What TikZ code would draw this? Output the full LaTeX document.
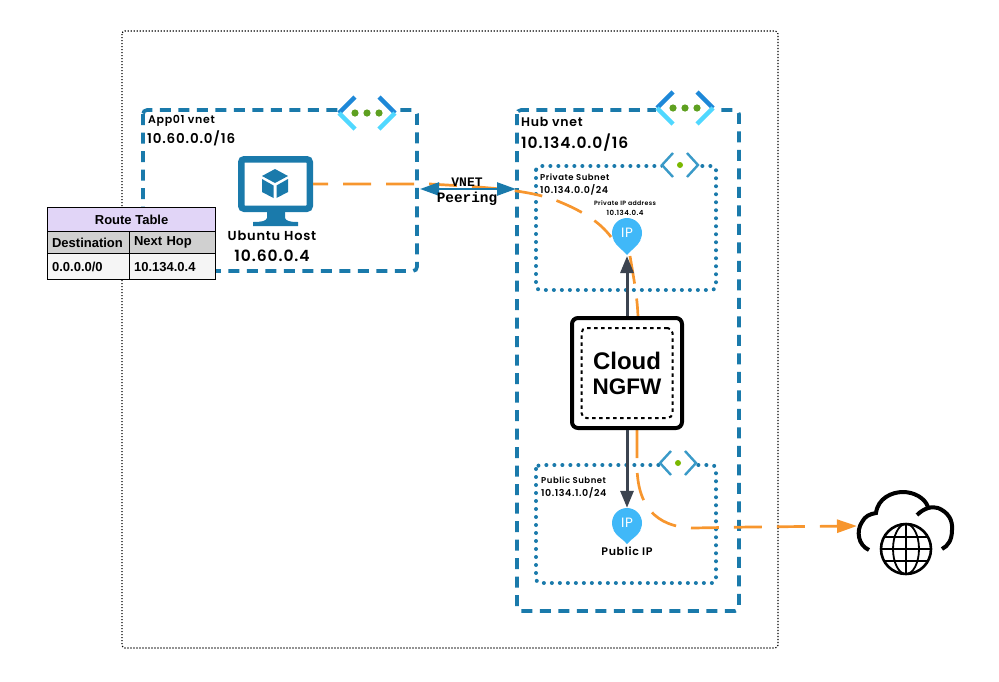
\documentclass[tikz,border=0pt]{standalone}
\usepackage{fontspec}
\setmainfont{Liberation Sans}
\newfontfamily\labelfont[LetterSpace=6,BoldFont={Poppins SemiBold}]{Poppins}
\newfontfamily\peerfont{Liberation Mono}
\usetikzlibrary{arrows.meta}
\definecolor{vnetblue}{HTML}{1A7AAB}
\definecolor{flowline}{HTML}{F7962E}
\definecolor{darkarrow}{HTML}{3C4450}
\definecolor{pinblue}{HTML}{40B8F8}
\definecolor{chevdark}{HTML}{1E88D8}
\definecolor{chevlight}{HTML}{50D8FF}
\definecolor{subchev}{HTML}{3A9AC8}
\definecolor{dotgreen}{HTML}{5EA020}
\definecolor{subgreen}{HTML}{7AB800}
\definecolor{headpurple}{HTML}{E1D5F7}
\definecolor{headgrey}{HTML}{D0D0D0}
\definecolor{rowgrey}{HTML}{F5F5F5}
\tikzset{
  vneticon/.pic={
    \fill[white] (-29,-9) rectangle (29,9);
    \draw[chevdark,line width=4.4pt] (-12,-16) -- (-28,0);
    \draw[chevdark,line width=4.4pt] (12,-16) -- (28,0);
    \draw[chevlight,line width=4.4pt] (-28,0) -- (-12,16);
    \draw[chevlight,line width=4.4pt] (28,0) -- (12,16);
    \foreach \dx in {-12,0,12}
      \fill[dotgreen] (\dx,0) circle (3.6);
  },
  subneticon/.pic={
    \fill[white] (-18,-6) rectangle (18,6);
    \draw[subchev,line width=2.4pt] (-7,-12) -- (-18,0) -- (-7,12);
    \draw[subchev,line width=2.4pt] (7,-12) -- (18,0) -- (7,12);
    \fill[subgreen] (0,0) circle (3);
  }
}
\begin{document}
\begin{tikzpicture}[x=1pt,y=-1pt,
    outerbox/.style ={draw=black, line width=1.2pt, dash pattern=on 1.2pt off 1.8pt, rounded corners=3pt},
    vnetbox/.style ={draw=vnetblue, line width=3.6pt, dash pattern=on 11pt off 7.5pt, rounded corners=4pt},
    subnetbox/.style ={draw=vnetblue, line width=4pt, line cap=round, dash pattern=on 0pt off 8pt, rounded corners=4pt},
    flow/.style ={draw=flowline, line width=2.7pt, dash pattern=on 28pt off 15pt},
    ipline/.style ={draw=darkarrow, line width=3pt, -{Triangle[length=17pt,width=13pt]}},
    peerline/.style ={draw=vnetblue, line width=2.5pt, {Triangle[length=19pt,width=13pt]}-{Triangle[length=19pt,width=13pt]}},
    ippin/.style ={circle, fill=pinblue, text=white, inner sep=0pt, minimum size=30pt, font=\labelfont\fontsize{13.5}{14}\selectfont},
    cell/.style ={draw=black, line width=1.2pt, inner sep=0pt, inner xsep=4.5pt, anchor=north west, font=\bfseries\fontsize{13}{15}\selectfont},
    vnetname/.style ={inner sep=0pt, font=\labelfont\bfseries\fontsize{11}{12}\selectfont},
    bigname/.style ={inner sep=0pt, font=\labelfont\bfseries\fontsize{13}{15}\selectfont},
    smallname/.style ={inner sep=0pt, font=\labelfont\bfseries\fontsize{8.5}{10}\selectfont},
    cidrname/.style ={inner sep=0pt, font=\labelfont\bfseries\fontsize{9.5}{10}\selectfont},
    tinyname/.style ={inner sep=0pt, font=\labelfont\bfseries\fontsize{6.2}{8}\selectfont}]
   \useasboundingbox (0,0) rectangle (999,681);

   % boxes
   \draw[outerbox] (122,31) rectangle (778,648);
   \draw[vnetbox] (143,110) rectangle (417,271);
   \draw[vnetbox] (517,110) rectangle (739,611);
   \draw[subnetbox] (536,166) rectangle (716,290);
   \draw[subnetbox] (536,465) rectangle (716,583);
   \pic at (367,113) {vneticon};
   \pic at (685,108) {vneticon};
   \pic at (680,165) {subneticon};
   \pic at (678,463) {subneticon};

   % host
   \node[draw=vnetblue, line width=6.5pt, rounded corners=3pt, inner sep=0pt, minimum width=68.5pt, minimum height=49.5pt] (host) at (275.5,184) {};
   \fill[vnetblue] (267,212) -- (285,212) -- (285,218) .. controls (286,221) and (290,222) .. (298,222) -- (298,226) -- (253,226) -- (253,222) .. controls (262,222) and (266,221) .. (267,218) -- cycle;
   \fill[vnetblue] (275,169) -- (288,176) -- (275,183) -- (262,176) -- cycle;
   \fill[vnetblue] (262,179) -- (273.5,185.5) -- (273.5,198) -- (262,192) -- cycle;
   \fill[vnetblue] (288,179) -- (276.5,185.5) -- (276.5,198) -- (288,192) -- cycle;

   % coordinates on the firewall and the cloud
   \coordinate (fwtop) at (638,316);
   \coordinate (fwbottom) at (637,430);
   \coordinate (cloudin) at (857,526);

   % pins first as places, flows go behind them
   \coordinate (privleft) at (611,237);
   \coordinate (privtip) at (630,256);
   \draw[flow, dash phase=13pt] (host.east) -- (430,184) .. controls (480,187) and (530,189) .. (560,202) .. controls (582,211) and (600,222) .. (privleft);
   \draw[flow] (privtip) .. controls (634,280) and (637,295) .. (fwtop);
   \draw[flow,-{Triangle[length=20pt,width=13pt]}] (fwbottom) -- (637,465) .. controls (637,505) and (655,527) .. (693,528) -- (750,527) -- (cloudin);

   % firewall
   \node[draw=black, fill=white, line width=4pt, rounded corners=6pt, minimum size=110pt, inner sep=0pt] (ngfw) at (627,373) {};
   \node[draw=black, line width=2pt, dash pattern=on 3.5pt off 3.5pt, rounded corners=5pt, minimum width=91pt, minimum height=90pt, inner sep=0pt, align=center, font=\bfseries\fontsize{24}{25}\selectfont] (ngfwin) at (ngfw.center) {Cloud\\\fontsize{22.5}{25}\selectfont NGFW};

   % private and public ip
   \node[ippin] (ippriv) at (627,233) {IP};
   \fill[pinblue] (613.5,240) .. controls (616,246) and (623,250) .. (627,255) .. controls (631,250) and (638,246) .. (640.5,240) -- cycle;
   \node[ippin] (ippub) at (627,523) {IP};
   \fill[pinblue] (613.5,530) .. controls (616,536) and (623,539) .. (627,544) .. controls (631,539) and (638,536) .. (640.5,530) -- cycle;
   \coordinate (privpoint) at (627,256);
   \draw[ipline] (ngfw.north) -- (privpoint);
   \draw[ipline] (ngfw.south) -- (ippub.north);

   % peering
   \coordinate (peerleft) at (420,189);
   \coordinate (peerright) at (516,189);
   \draw[peerline] (peerleft) -- (peerright);
   \node[inner sep=0pt, font=\peerfont\bfseries\fontsize{13}{15}\selectfont] (vnetlabel) at (467,182) {VNET};
   \node[inner sep=0pt, font=\peerfont\bfseries\fontsize{14.4}{16}\selectfont] (peerlabel) at (467,199) {Peering};

   % labels
   \node[vnetname, anchor=west] (appname) at (148,121) {App01 vnet};
   \node[bigname, anchor=west, font=\labelfont\bfseries\fontsize{13.5}{15}\selectfont] (appcidr) at (147,138) {10.60.0.0/16};
   \node[bigname] (hostname) at (272,236) {Ubuntu Host};
   \node[bigname, font=\labelfont\bfseries\fontsize{15.5}{16}\selectfont] (hostip) at (272,256) {10.60.0.4};
   \node[bigname, anchor=west, font=\labelfont\bfseries\fontsize{12.5}{15}\selectfont] (hubname) at (521,122) {Hub vnet};
   \node[bigname, anchor=west, font=\labelfont\bfseries\fontsize{15.5}{16}\selectfont] (hubcidr) at (521,143) {10.134.0.0/16};
   \node[smallname, anchor=west] (privname) at (540,177) {Private Subnet};
   \node[cidrname, anchor=west] (privcidr) at (540,190) {10.134.0.0/24};
   \node[tinyname] (privlabel) at (625,203) {Private IP address};
   \node[tinyname, font=\labelfont\bfseries\fontsize{7}{8}\selectfont] (privaddr) at (625,213) {10.134.0.4};
   \node[smallname, anchor=west] (pubname) at (541,480) {Public Subnet};
   \node[cidrname, anchor=west] (pubcidr) at (541,493) {10.134.1.0/24};
   \node[vnetname] (pubip) at (627,551) {Public IP};

   % route table
   \node[cell, fill=headpurple, minimum width=168pt, minimum height=24pt] (rthead) at (47,207) {Route Table};
   \node[cell, fill=headgrey, minimum width=82pt, minimum height=22pt, text width=73pt, align=left] (rtdest) at (47,231) {Destination};
   \node[cell, fill=headgrey, minimum width=86pt, minimum height=22pt, text width=77pt, align=left] (rthop) at (129,231) {Next Hop};
   \node[cell, fill=rowgrey, minimum width=82pt, minimum height=26pt, text width=73pt, align=left] (rtzero) at (47,253) {0.0.0.0/0};
   \node[cell, fill=rowgrey, minimum width=86pt, minimum height=26pt, text width=77pt, align=left] (rtnext) at (129,253) {10.134.0.4};

   % cloud
   \node[circle, draw=black, line width=2.6pt, minimum size=50pt, inner sep=0pt] (globe) at (906,549) {};
   \draw[black, line width=1.8pt] (globe.north) -- (globe.south);
   \draw[black, line width=1.8pt] (globe.west) -- (globe.east);
   \draw[black, line width=1.8pt] (globe.center) ellipse (13 and 25);
   \draw[black, line width=1.8pt] (885,537) -- (927,537);
   \draw[black, line width=1.8pt] (885,561) -- (927,561);
   \draw[black, line width=4pt] (869,550) .. controls (858,545) and (856,531) .. (862,522) .. controls (865,516) and (870,514) .. (876,513) .. controls (878,498) and (892,492) .. (903,492) .. controls (914,492) and (925,498) .. (928,507);
   \draw[black, line width=4pt] (917,515) .. controls (924,508) and (932,506) .. (938,508) .. controls (948,512) and (953,520) .. (952,530) .. controls (952,540) and (948,546) .. (942,549);
 \end{tikzpicture}
\end{document}
